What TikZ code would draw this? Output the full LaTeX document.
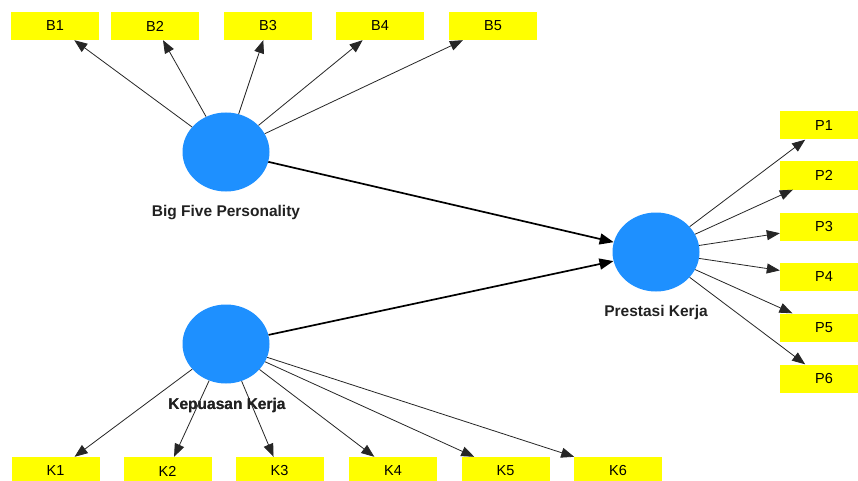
\documentclass[tikz,border=0pt]{standalone}
\usepackage{fontspec}
\setmainfont{Liberation Sans}
\usetikzlibrary{shapes.geometric,arrows.meta}
\definecolor{lvblue}{HTML}{1E90FF}
\definecolor{indyellow}{HTML}{FFFF00}
\begin{document}
\begin{tikzpicture}[x=1pt,y=-1pt,
  ind/.style={rectangle,fill=indyellow,minimum width=88pt,minimum height=28pt,inner sep=0pt,font=\fontsize{14.5}{16}\selectfont},
  lv/.style={ellipse,fill=lvblue,minimum width=87pt,minimum height=79pt,inner sep=0pt},
  lvlabel/.style={font=\fontsize{15.5}{18}\selectfont\bfseries,text=black!87},
  load/.style={-{Triangle[length=13pt,width=10pt]},line width=0.8pt,black!85},
  path/.style={-{Triangle[length=14pt,width=11pt]},line width=1.7pt,black}]
\useasboundingbox (0,0) rectangle (858,481);
\fill[white] (0,0) rectangle (858,481);
% latent variables
\node[lv] (BF) at (226,152) {};
\node[lv] (KK) at (226,344) {};
\node[lv] (PK) at (656,252) {};
\node[lvlabel] (BFl) at (226,213) {Big Five Personality};
\node[lvlabel] (KKl) at (227,405) {Kepuasan Kerja};
\node[lvlabel] (PKl) at (656,312) {Prestasi Kerja};
% indicators
\node[ind] (B1) at (55,26) {B1};
\node[ind] (B2) at (155,26) {B2};
\node[ind] (B3) at (268,26) {B3};
\node[ind] (B4) at (380,26) {B4};
\node[ind] (B5) at (493,26) {B5};
\node[ind] (P1) at (824,125.5) {P1};
\node[ind] (P2) at (824,175.5) {P2};
\node[ind] (P3) at (824,226.5) {P3};
\node[ind] (P4) at (824,277) {P4};
\node[ind] (P5) at (824,327.5) {P5};
\node[ind] (P6) at (824,378.5) {P6};
\node[ind] (K1) at (55.5,471) {K1};
\node[ind] (K2) at (167.5,471) {K2};
\node[ind] (K3) at (279.5,471) {K3};
\node[ind] (K4) at (393,471) {K4};
\node[ind] (K5) at (505.5,471) {K5};
\node[ind] (K6) at (618,471) {K6};
% loadings
\foreach \b in {B1,B2,B3,B4,B5} \draw[load] (BF) -- (\b);
\foreach \p in {P1,P2,P3,P4,P5,P6} \draw[load] (PK) -- (\p);
\foreach \k in {K1,K2,K3,K4,K5,K6} \draw[load] (KK) -- (\k);
% structural paths
\draw[path] (BF) -- (PK);
\draw[path] (KK) -- (PK);
% redraw labels on top
\node[lvlabel] at (KKl) {Kepuasan Kerja};
\end{tikzpicture}
\end{document}
